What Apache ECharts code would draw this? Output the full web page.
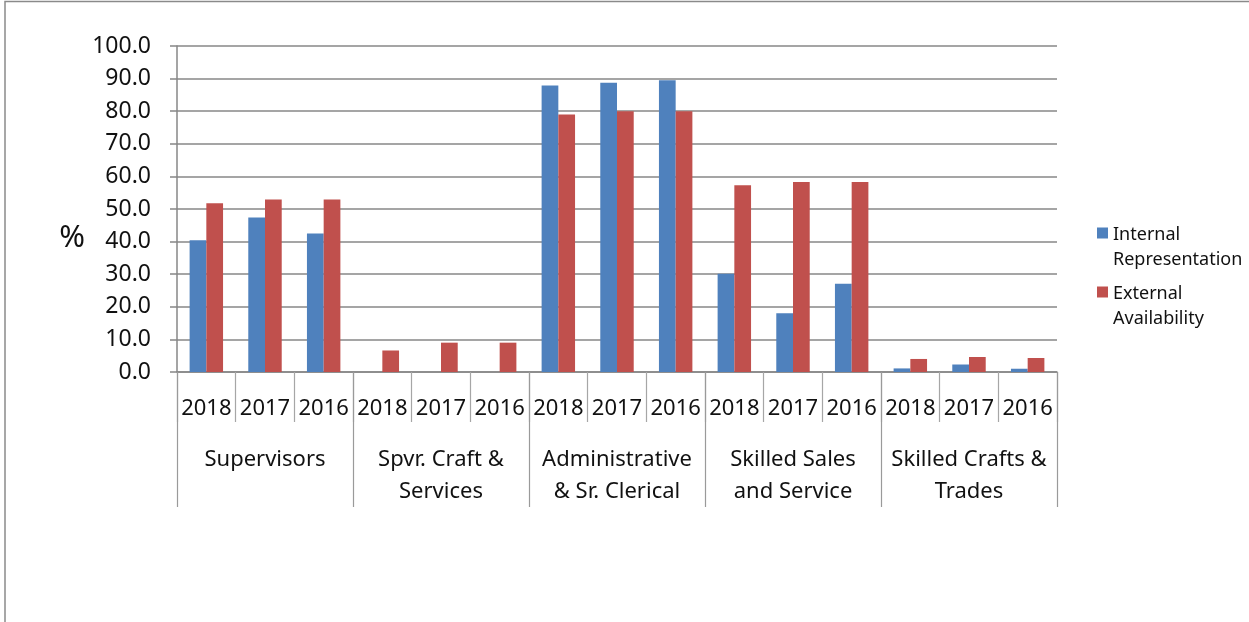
<!DOCTYPE html>
<html>
<head>
<meta charset="utf-8">
<script src="https://cdn.jsdelivr.net/npm/echarts@6/dist/echarts.min.js"></script>
<style>
    html, body {margin: 0; padding: 0; background: #fff;}
    #chart {width: 1249px; height: 622px;}
</style>
</head>
<body>
<div id="chart"></div>
<script>
// 数据
var aGroups = ['Supervisors', 'Spvr. Craft &\nServices', 'Administrative\n& Sr. Clerical', 'Skilled Sales\nand Service', 'Skilled Crafts &\nTrades'];
var aYears = ['2018', '2017', '2016'];
var aInternal = [40.4, 47.4, 42.5, 0, 0, 0, 87.9, 88.7, 89.5, 30.1, 18.0, 27.1, 1.1, 2.3, 1.0];
var aExternal = [51.8, 52.9, 52.9, 6.6, 9.0, 9.0, 79.0, 80.0, 80.0, 57.3, 58.3, 58.3, 4.0, 4.6, 4.3];
var aSeriesNames = ['Internal\nRepresentation', 'External\nAvailability'];

var aCategories = [];
for (var i = 0; i < aGroups.length; i++) {
    for (var j = 0; j < aYears.length; j++) {
        aCategories.push(aYears[j]);
    }
}

var sFont = '"Noto Sans", "Open Sans", sans-serif';
var sGray = '#878787';

function GetOption() {
    var jOption = {
        animation: false,
        color: ['#4F81BD', '#C0504D'],
        textStyle: {fontFamily: sFont},
        grid: {left: 177, right: 192, top: 46, bottom: 250, containLabel: false},
        graphic: [{
            type: 'rect',
            shape: {x: 5, y: 1.5, width: 1400, height: 800},
            style: {fill: 'none', stroke: '#8a8a8a', lineWidth: 1.5},
            silent: true
        }],
        legend: {
            orient: 'vertical',
            left: 1097,
            top: 203,
            padding: 0,
            itemWidth: 11,
            itemHeight: 11,
            itemGap: -7,
            icon: 'rect',
            data: aSeriesNames,
            // 空的第一行把文字往下推, 让图标对齐第一行
            formatter: function (sName) {
                var aLines = sName.split('\n');
                return '{s| }\n{t|' + aLines[0] + '}\n{t|' + aLines[1] + '}';
            },
            textStyle: {
                fontFamily: sFont, fontSize: 18, color: '#111',
                rich: {
                    s: {lineHeight: 29, fontSize: 10},
                    t: {lineHeight: 25, fontSize: 18, color: '#111', fontFamily: sFont}
                }
            }
        },
        xAxis: [
            {
                type: 'category',
                data: aCategories,
                position: 'bottom',
                axisLine: {lineStyle: {color: sGray, width: 1.5}},
                axisTick: {show: true, interval: 0, length: 50, lineStyle: {color: '#a6a6a6', width: 1.2}},
                axisLabel: {interval: 0, margin: 26, fontSize: 22, color: '#111', fontFamily: sFont}
            },
            {
                type: 'category',
                data: aGroups,
                position: 'bottom',
                axisLine: {show: false},
                axisTick: {show: true, interval: 0, length: 135, lineStyle: {color: '#9a9a9a', width: 1.2}},
                axisLabel: {interval: 0, margin: 72, fontSize: 22, lineHeight: 32, color: '#111', fontFamily: sFont}
            }
        ],
        yAxis: {
            type: 'value',
            min: 0,
            max: 100,
            interval: 10,
            name: '\n%',
            nameLocation: 'middle',
            nameRotate: 0,
            nameGap: 92,
            nameTextStyle: {fontSize: 31, lineHeight: 58, color: '#111', fontFamily: sFont},
            axisLine: {show: true, lineStyle: {color: sGray, width: 1.5}},
            axisTick: {show: true, length: 7, lineStyle: {color: sGray, width: 1.5}},
            axisLabel: {
                margin: 26, fontSize: 23, color: '#111', fontFamily: sFont,
                formatter: function (v) { return v.toFixed(1); }
            },
            splitLine: {lineStyle: {color: sGray, width: 1.5}}
        },
        series: [
            {
                name: aSeriesNames[0],
                type: 'bar',
                xAxisIndex: 0,
                barGap: '0%',
                barCategoryGap: '43%',
                data: aInternal
            },
            {
                name: aSeriesNames[1],
                type: 'bar',
                xAxisIndex: 0,
                barGap: '0%',
                barCategoryGap: '43%',
                data: aExternal
            }
        ]
    };
    return jOption;
}

var oChart = echarts.init(document.getElementById('chart'));
oChart.setOption(GetOption());
</script>
</body>
</html>
